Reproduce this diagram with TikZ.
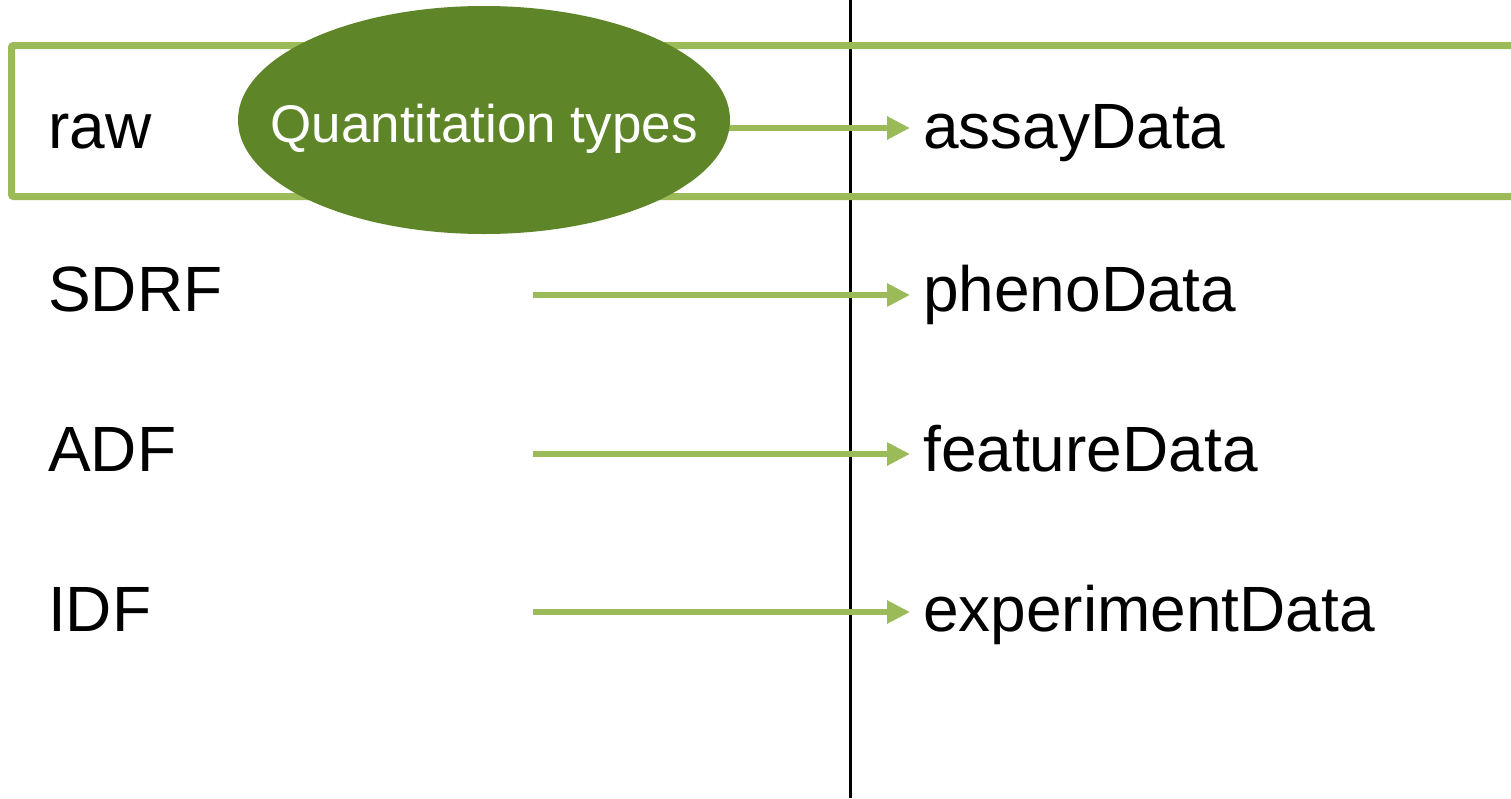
\documentclass[tikz,border=0pt]{standalone}
\usepackage{fontspec}
\setmainfont{Liberation Sans}
\usetikzlibrary{arrows.meta,shapes.geometric}
\definecolor{lightgreen}{HTML}{9BBB59}
\definecolor{darkgreen}{HTML}{5E8628}
\begin{document}
\begin{tikzpicture}[x=1pt,y=-1pt,
  lbl/.style={inner sep=0pt,anchor=base west,font=\fontsize{64}{64}\selectfont},
  tgt/.style={inner xsep=13pt,inner ysep=0pt,anchor=base west,font=\fontsize{64}{64}\selectfont},
  arr/.style={draw=lightgreen,line width=6pt,-{Triangle[length=23pt,width=22pt]}},
  frame/.style={draw=lightgreen,line width=7pt,rounded corners=2pt},
  qt/.style={ellipse,fill=darkgreen,minimum width=492pt,minimum height=228pt,inner sep=0pt},
  qtext/.style={text=white,inner sep=0pt,anchor=base,font=\fontsize{53}{53}\selectfont}]
\useasboundingbox (0,0) rectangle (1511,798);
\fill[white] (0,0) rectangle (1511,798);
% divider
\coordinate (vtop) at (850.5,0);
\coordinate (vbot) at (850.5,798);
\draw[black,line width=2.5pt] (vtop) -- (vbot);
% frame
\draw[frame] (11.5,45.5) rectangle (1540,196.5);
% left labels
\node[lbl] (raw) at (48,148) {raw};
\node[lbl] (sdrf) at (48,311) {SDRF};
\node[lbl] (adf) at (48,471) {ADF};
\node[lbl] (idf) at (48,631) {IDF};
% right labels
\node[tgt] (assay) at (910,148) {assayData};
\node[tgt] (pheno) at (910,311) {phenoData};
\node[tgt] (feature) at (910,471) {featureData};
\node[tgt] (experiment) at (910,631) {experimentData};
% arrows
\coordinate (a0) at (700,128);
\coordinate (s2) at (533,295);
\coordinate (s3) at (533,454);
\coordinate (s4) at (533,612);
\draw[arr] (a0) -- (assay.west |- a0);
\draw[arr] (s2) -- (pheno.west |- s2);
\draw[arr] (s3) -- (feature.west |- s3);
\draw[arr] (s4) -- (experiment.west |- s4);
% ellipse
\node[qt] (q) at (484,120) {};
\node[qtext] (qlabel) at (484,142) {Quantitation types};
\end{tikzpicture}
\end{document}
